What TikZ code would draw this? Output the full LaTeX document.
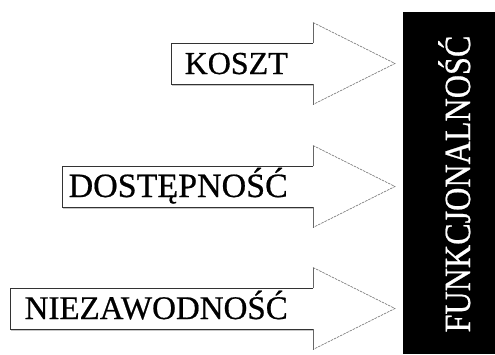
\documentclass[tikz,border=0pt]{standalone}
\usepackage{fontspec}
\setmainfont{Liberation Serif}
\newfontfamily\heavyserif[FakeBold=0.6]{Liberation Serif}
\begin{document}
\begin{tikzpicture}[x=1pt,y=-1pt,
  shaftline/.style={draw=black!80, line width=0.9pt},
  shaftshade/.style={draw=black!22, line width=1.2pt},
  headbase/.style={draw=black!60, line width=0.7pt},
  headline/.style={draw=black!60, line width=0.6pt, dash pattern=on 2.5pt off 1pt},
  featlabel/.style={anchor=base east, inner sep=0pt},
  barlabel/.style={font=\heavyserif\fontsize{37}{37}\selectfont, text=white, rotate=90, anchor=base, inner sep=0pt}]
\useasboundingbox (0,0) rectangle (495,354);
\fill[white] (0,0) rectangle (495,354);

% the target: a tall black bar on the right
\node (bar) [fill=black, inner sep=0pt, minimum width=92pt, minimum height=342pt, anchor=north west] at (403,12) {};
\node (func) [barlabel] at (470,184) {\scalebox{0.87}[1]{FUNKCJONALNOŚĆ}};

% an outlined block arrow: #1 name, #2 left edge, #3 axis height, #4 font size, #5 label
\newcommand\featarrow[5]{%
  \coordinate (#1tip) at (395,#3);
  \draw[shaftshade] (#2+1,#3+22) -- (313,#3+22);
  \draw[shaftline] (313,#3-20.5) -- (#2,#3-20.5) -- (#2,#3+20.5) -- (313,#3+20.5);
  \draw[headbase] (313,#3-20.5) -- (313,#3-41);
  \draw[headbase] (313,#3+20.5) -- (313,#3+41);
  \draw[headline] (313,#3-41) -- (#1tip) -- (313,#3+41);
  \node (#1) [featlabel, font=\heavyserif\fontsize{#4}{#4}\selectfont] at (288,#3+10.5) {#5};
}

\featarrow{koszt}{171}{63.5}{32}{KOSZT}
\featarrow{dost}{62}{186.5}{34}{DOSTĘPNOŚĆ}
\featarrow{niez}{10}{308.5}{33}{NIEZAWODNOŚĆ}
\end{tikzpicture}
\end{document}
